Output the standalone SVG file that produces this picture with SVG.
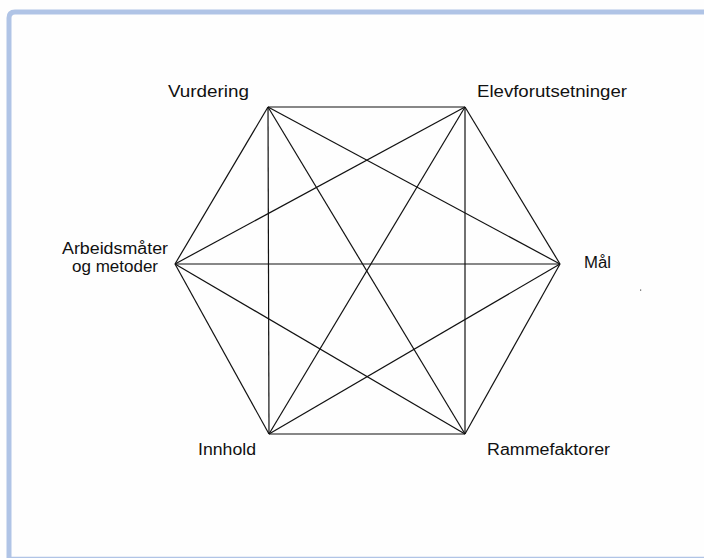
<svg xmlns="http://www.w3.org/2000/svg" width="704" height="558" viewBox="0 0 704 558">
<style>
.lbl{font-family:"Liberation Sans",Arial,sans-serif;font-size:16px;fill:#111}
.edge{stroke:#111;stroke-width:1.2;fill:none}
</style>
<rect x="0" y="0" width="704" height="558" fill="#fefefe"/>
<path d="M9,560 V18 Q9,12 15,12 H710" fill="none" stroke="#b0c4e6" stroke-width="5"/>
<line x1="7" y1="557.5" x2="704" y2="557.5" stroke="#b0c4e6" stroke-width="1.5"/>
<g id="connectors">
<line class="edge" x1="268" y1="107" x2="465" y2="107"/>
<line class="edge" x1="268" y1="107" x2="560" y2="264"/>
<line class="edge" x1="268" y1="107" x2="465" y2="434"/>
<line class="edge" x1="268" y1="107" x2="269" y2="434"/>
<line class="edge" x1="268" y1="107" x2="175" y2="264"/>
<line class="edge" x1="465" y1="107" x2="560" y2="264"/>
<line class="edge" x1="465" y1="107" x2="465" y2="434"/>
<line class="edge" x1="465" y1="107" x2="269" y2="434"/>
<line class="edge" x1="465" y1="107" x2="175" y2="264"/>
<line class="edge" x1="560" y1="264" x2="465" y2="434"/>
<line class="edge" x1="560" y1="264" x2="269" y2="434"/>
<line class="edge" x1="560" y1="264" x2="175" y2="264"/>
<line class="edge" x1="465" y1="434" x2="269" y2="434"/>
<line class="edge" x1="465" y1="434" x2="175" y2="264"/>
<line class="edge" x1="269" y1="434" x2="175" y2="264"/>
</g>
<g id="vurdering"><text class="lbl" x="168" y="97" textLength="81" lengthAdjust="spacingAndGlyphs">Vurdering</text></g>
<g id="elevforutsetninger"><text class="lbl" x="477" y="97" textLength="150" lengthAdjust="spacingAndGlyphs">Elevforutsetninger</text></g>
<g id="mal"><text class="lbl" x="584" y="268" textLength="27" lengthAdjust="spacingAndGlyphs">Mål</text></g>
<g id="rammefaktorer"><text class="lbl" x="487" y="455" textLength="123" lengthAdjust="spacingAndGlyphs">Rammefaktorer</text></g>
<g id="innhold"><text class="lbl" x="198" y="455" textLength="58" lengthAdjust="spacingAndGlyphs">Innhold</text></g>
<g id="arbeidsmater">
<text class="lbl" x="62" y="254" textLength="106" lengthAdjust="spacingAndGlyphs">Arbeidsmåter</text>
<text class="lbl" x="72" y="272" textLength="86" lengthAdjust="spacingAndGlyphs">og metoder</text>
</g>
<rect x="640" y="289.5" width="1.2" height="1.2" fill="#555"/>
</svg>
